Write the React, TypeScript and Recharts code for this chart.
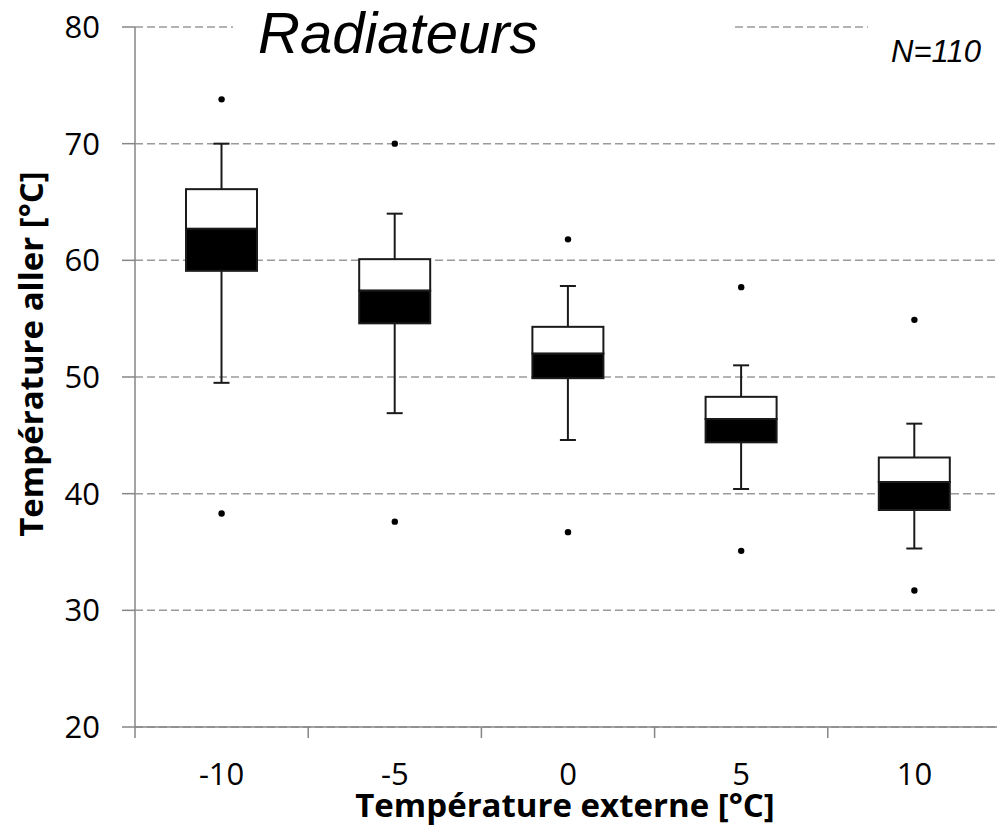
import React from 'react';
import { ComposedChart, Bar, Scatter, XAxis, YAxis, CartesianGrid } from 'recharts';

const categories = ['-10', '-5', '0', '5', '10'];
const whiskerLow = [49.5, 46.9, 44.6, 40.4, 35.3];
const q1 = [59.1, 54.6, 49.9, 44.4, 38.6];
const median = [62.7, 57.4, 52.0, 46.4, 41.0];
const q3 = [66.1, 60.1, 54.3, 48.3, 43.1];
const whiskerHigh = [70.0, 64.0, 57.8, 51.0, 46.0];
const outlierHigh = [73.8, 70.0, 61.8, 57.7, 54.9];
const outlierLow = [38.3, 37.6, 36.7, 35.1, 31.7];
const yTicks = [20, 30, 40, 50, 60, 70, 80];

const data = categories.map((cat, i) => ({
  cat,
  range: [whiskerLow[i], whiskerHigh[i]],
  lo: whiskerLow[i],
  q1: q1[i],
  med: median[i],
  q3: q3[i],
  hi: whiskerHigh[i],
  outHigh: outlierHigh[i],
  outLow: outlierLow[i],
}));

const AXIS_GRAY = '#868686';
const FONT = '"Open Sans", "Noto Sans", sans-serif';

const BoxShape = (props: any) => {
  const { x, y, width, height, payload } = props;
  const top = height < 0 ? y + height : y;
  const h = Math.abs(height);
  const lo = payload.lo;
  const hi = payload.hi;
  const k = h / (hi - lo);
  const py = (v: number) => top + (hi - v) * k;
  const cx = x + width / 2;
  const cap = 8;
  const ink = '#1a1a1a';
  return (
    <g>
      <line x1={cx} x2={cx} y1={py(hi)} y2={py(payload.q3)} stroke={ink} strokeWidth={2} />
      <line x1={cx - cap} x2={cx + cap} y1={py(hi)} y2={py(hi)} stroke={ink} strokeWidth={2} />
      <line x1={cx} x2={cx} y1={py(payload.q1)} y2={py(lo)} stroke={ink} strokeWidth={2} />
      <line x1={cx - cap} x2={cx + cap} y1={py(lo)} y2={py(lo)} stroke={ink} strokeWidth={2} />
      <rect x={x} y={py(payload.q3)} width={width} height={py(payload.med) - py(payload.q3)} fill="#fff" stroke={ink} strokeWidth={2} />
      <rect x={x} y={py(payload.med)} width={width} height={py(payload.q1) - py(payload.med)} fill="#000" stroke={ink} strokeWidth={2} />
    </g>
  );
};

const Dot = (props: any) => {
  const { cx, cy } = props;
  if (cx == null || cy == null) return null;
  return <circle cx={cx} cy={cy} r={3.2} fill="#000" />;
};

const X_TICK_SIZE = 11;
const X_TICK_MARGIN = 25;

const XTick = (props: any) => {
  const { x, y, payload, index, visibleTicksCount, width } = props;
  const band = width / visibleTicksCount;
  const axisY = y - X_TICK_MARGIN - X_TICK_SIZE;
  const left = x - band / 2;
  const right = x + band / 2;
  return (
    <g>
      <line x1={left} x2={left} y1={axisY} y2={axisY + X_TICK_SIZE} stroke={AXIS_GRAY} strokeWidth={1.5} />
      {index === visibleTicksCount - 1 && (
        <line x1={right} x2={right} y1={axisY} y2={axisY + X_TICK_SIZE} stroke={AXIS_GRAY} strokeWidth={1.5} />
      )}
      <text x={x} y={y} dy="0.71em" textAnchor="middle" fill="#000" fontSize={31} fontFamily={FONT}>
        {payload.value}
      </text>
    </g>
  );
};

export default function App() {
  return (
    <div style={{ position: 'fixed', left: 0, top: 0, width: 997, height: 829, overflow: 'hidden', background: '#fff' }}>
      <ComposedChart
        width={1002}
        height={829}
        data={data}
        margin={{ top: 27, right: 1, left: 0, bottom: 0 }}
      >
        <CartesianGrid horizontal vertical={false} stroke="#9a9a9a" strokeWidth={1.5} strokeDasharray="8 4" />
        <XAxis
          dataKey="cat"
          type="category"
          interval={0}
          height={102}
          tickLine={false}
          tickSize={X_TICK_SIZE}
          tickMargin={X_TICK_MARGIN}
          axisLine={{ stroke: AXIS_GRAY, strokeWidth: 1.5 }}
          tick={<XTick />}
          label={{
            content: (p: any) => {
              const vb = p.viewBox;
              return (
                <text x={vb.x + vb.width / 2 - 3} y={vb.y + 90} textAnchor="middle" fontFamily={FONT} fontWeight={700} fontSize={33} fill="#000">
                  Température externe [°C]
                </text>
              );
            },
          }}
        />
        <YAxis
          type="number"
          domain={[20, 80]}
          ticks={yTicks}
          interval={0}
          width={135}
          tickSize={13}
          tickMargin={22}
          axisLine={{ stroke: AXIS_GRAY, strokeWidth: 1.5 }}
          tickLine={{ stroke: AXIS_GRAY, strokeWidth: 1.5 }}
          tick={{ fill: '#000', fontSize: 31, fontFamily: FONT }}
          label={{
            content: (p: any) => {
              const vb = p.viewBox;
              const tx = vb.x + 43;
              const ty = vb.y + vb.height / 2 - 23;
              return (
                <text x={tx} y={ty} transform={`rotate(-90, ${tx}, ${ty})`} textAnchor="middle" fontFamily={FONT} fontWeight={700} fontSize={33} fill="#000">
                  Température aller [°C]
                </text>
              );
            },
          }}
        />
        <Bar dataKey="range" barSize={71} shape={<BoxShape />} isAnimationActive={false} />
        <Scatter dataKey="outHigh" shape={<Dot />} fill="#000" isAnimationActive={false} />
        <Scatter dataKey="outLow" shape={<Dot />} fill="#000" isAnimationActive={false} />
      </ComposedChart>
      <svg width={997} height={829} style={{ position: 'absolute', left: 0, top: 0, pointerEvents: 'none' }}>
        <rect x={233} y={0} width={502} height={60} fill="#fff" />
        <text x={258} y={53} fontFamily='"Liberation Sans", Arial, sans-serif' fontStyle="italic" fontSize={58} fill="#000">
          Radiateurs
        </text>
        <rect x={868} y={0} width={140} height={70} fill="#fff" />
        <text x={891} y={62} fontFamily='"Liberation Sans", Arial, sans-serif' fontStyle="italic" fontSize={31} fill="#000">
          N=110
        </text>
      </svg>
    </div>
  );
}
